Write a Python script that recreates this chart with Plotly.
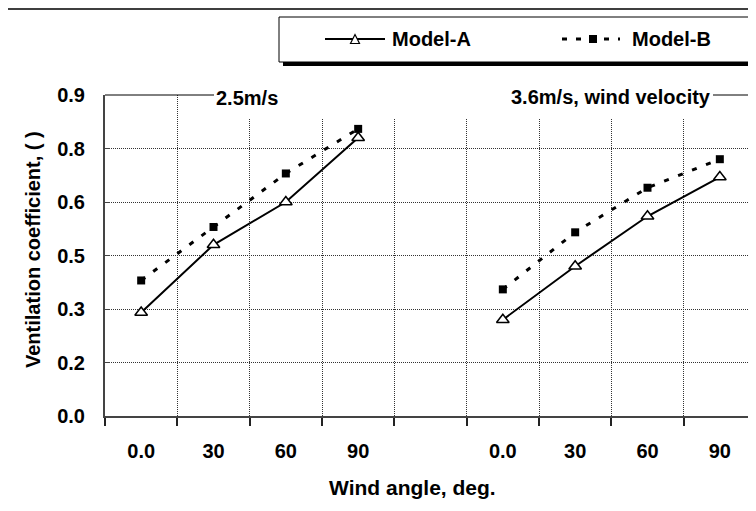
import plotly.graph_objects as go

# ---------------- data ----------------
angle_labels = ["0.0", "30", "60", "90"]
group_names = ["2.5m/s", "3.6m/s, wind velocity"]
modelA_25 = [0.29, 0.48, 0.60, 0.78]
modelB_25 = [0.38, 0.53, 0.68, 0.805]
modelA_36 = [0.27, 0.42, 0.56, 0.67]
modelB_36 = [0.355, 0.515, 0.64, 0.72]
y_tickvals = [0.0, 0.15, 0.30, 0.45, 0.60, 0.75, 0.90]
y_ticktext = ["0.0", "0.2", "0.3", "0.5", "0.6", "0.8", "0.9"]
series_names = ["Model-A", "Model-B"]

# ---------------- layout geometry (screen pixels; page body has an 8px margin) ----------------
FW, FH = 756, 511
OFF = 8
PL, PT, PW, PH = 105, 95, 651, 321          # plot area on screen
L = PL - OFF
T = PT - OFF
R = FW - L - PW
B = FH - T - PH


def px(x):
    return (x - PL) / PW


def py(y):
    return (PT + PH - y) / PH


FONT = dict(family="Liberation Sans, Arial, sans-serif", color="black", weight="bold")
FS = 20

n = len(angle_labels)
x_g1 = list(range(n))
x_g2 = [i + n + 1 for i in range(n)]

fig = go.Figure()
line_a = dict(color="black", width=2)
line_b = dict(color="black", width=3, dash="5px,10px")
mark_a = dict(symbol="triangle-up", size=11, color="white", line=dict(color="black", width=1.5))
mark_b = dict(symbol="square", size=8, color="black")

for xs, ya, yb in [(x_g1, modelA_25, modelB_25), (x_g2, modelA_36, modelB_36)]:
    fig.add_trace(go.Scatter(x=xs, y=yb, mode="lines+markers", line=line_b, marker=mark_b,
                             name=series_names[1], showlegend=False))
    fig.add_trace(go.Scatter(x=xs, y=ya, mode="lines+markers", line=line_a, marker=mark_a,
                             name=series_names[0], showlegend=False))

shapes = []
# outer frame
shapes.append(dict(type="rect", xref="paper", yref="paper", x0=px(7), x1=px(800), y0=py(9), y1=py(620),
                   line=dict(color="black", width=1.5), fillcolor="rgba(0,0,0,0)", layer="below"))
# white cover behind the group labels
shapes.append(dict(type="rect", xref="paper", yref="paper", x0=px(214), x1=px(712), y0=py(84), y1=py(118),
                   line=dict(width=0), fillcolor="white", layer="above"))
# top border segments
shapes.append(dict(type="line", xref="paper", yref="paper", x0=px(105), x1=px(214), y0=py(95), y1=py(95),
                   line=dict(color="black", width=1), layer="above"))
shapes.append(dict(type="line", xref="paper", yref="paper", x0=px(713), x1=px(770), y0=py(95), y1=py(95),
                   line=dict(color="black", width=1), layer="above"))
# legend box with shadow
shapes.append(dict(type="rect", xref="paper", yref="paper", x0=px(283), x1=px(810), y0=py(21), y1=py(66),
                   line=dict(width=0), fillcolor="black", layer="above"))
shapes.append(dict(type="rect", xref="paper", yref="paper", x0=px(279), x1=px(806), y0=py(17), y1=py(62),
                   line=dict(color="black", width=1), fillcolor="white", layer="above"))
# legend samples
shapes.append(dict(type="line", xref="paper", yref="paper", x0=px(325), x1=px(385), y0=py(39), y1=py(39),
                   line=dict(color="black", width=2), layer="above"))
tri = "M {} {} L {} {} L {} {} Z".format(px(350.5), py(43.5), px(359.5), py(43.5), px(355), py(34.5))
shapes.append(dict(type="path", xref="paper", yref="paper", path=tri,
                   line=dict(color="black", width=1.2), fillcolor="white", layer="above"))
shapes.append(dict(type="line", xref="paper", yref="paper", x0=px(562), x1=px(620), y0=py(39), y1=py(39),
                   line=dict(color="black", width=3, dash="5px,9px"), layer="above"))
shapes.append(dict(type="rect", xref="paper", yref="paper", x0=px(589), x1=px(597), y0=py(35), y1=py(43),
                   line=dict(width=0), fillcolor="black", layer="above"))

annotations = [
    dict(text=group_names[0], x=px(214), y=py(98), xref="paper", yref="paper", xanchor="left",
         yanchor="middle", showarrow=False, font=dict(FONT, size=FS)),
    dict(text=group_names[1], x=px(713), y=py(97), xref="paper", yref="paper", xanchor="right",
         yanchor="middle", showarrow=False, font=dict(FONT, size=FS)),
    dict(text="Wind angle, deg.", x=px(412), y=py(487), xref="paper", yref="paper", xanchor="center",
         yanchor="middle", showarrow=False, font=dict(FONT, size=FS + 1)),
    dict(text="Ventilation coefficient, ( )", x=px(33), y=py(250), xref="paper", yref="paper",
         xanchor="center", yanchor="middle", textangle=-90, showarrow=False, font=dict(FONT, size=FS)),
    dict(text=series_names[0], x=px(390), y=py(39), xref="paper", yref="paper", xanchor="left",
         yanchor="middle", showarrow=False, font=dict(FONT, size=FS)),
    dict(text=series_names[1], x=px(630), y=py(39), xref="paper", yref="paper", xanchor="left",
         yanchor="middle", showarrow=False, font=dict(FONT, size=FS)),
]

fig.update_layout(
    width=FW, height=FH,
    margin=dict(l=L, r=R, t=T, b=B, pad=0),
    paper_bgcolor="white", plot_bgcolor="white",
    showlegend=False,
    shapes=shapes, annotations=annotations,
    xaxis=dict(
        range=[-0.5, 2 * n + 0.5], tickmode="array", tickvals=x_g1 + x_g2,
        ticktext=angle_labels + angle_labels, ticks="", showgrid=False, zeroline=False,
        showline=True, linecolor="#444", linewidth=2,
        tickfont=dict(FONT, size=FS), ticklabelstandoff=16,
        minor=dict(tickmode="linear", tick0=0.5, dtick=1, ticks="outside", ticklen=8,
                   tickcolor="#222", tickwidth=2, showgrid=True, gridcolor="#333",
                   griddash="1px,1px", gridwidth=1),
    ),
    yaxis=dict(
        range=[0, 0.9], tickmode="array", tickvals=y_tickvals, ticktext=y_ticktext,
        ticks="inside", ticklen=5, tickcolor="#444", tickwidth=1,
        showgrid=True, gridcolor="#333", griddash="1px,1px", gridwidth=1, zeroline=False,
        showline=True, linecolor="#444", linewidth=2,
        tickfont=dict(FONT, size=FS), ticklabelstandoff=14,
    ),
)

fig.write_html("out.html")
